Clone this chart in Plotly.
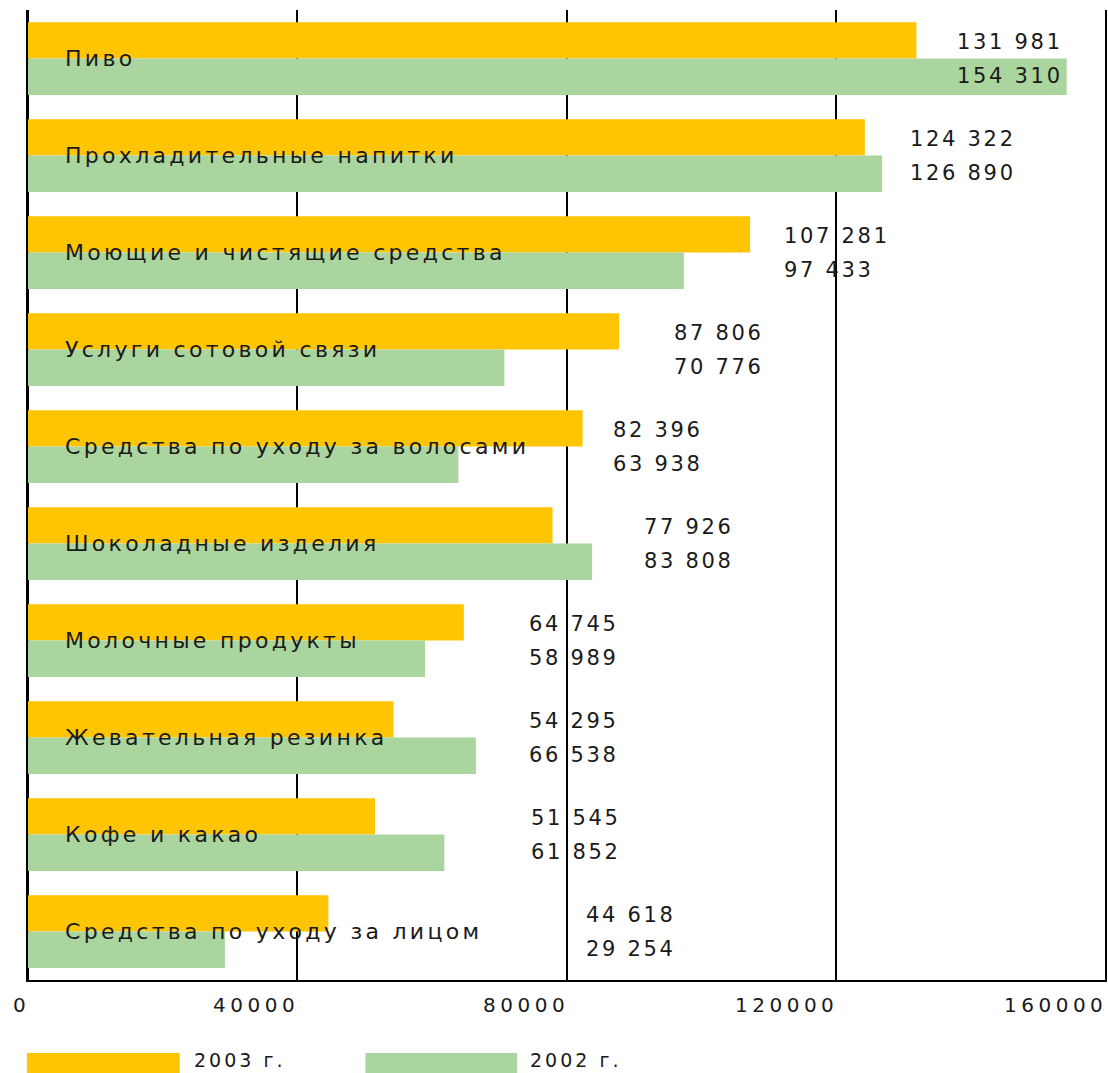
import plotly.graph_objects as go

# ---- data ----
categories = [
    "Пиво",
    "Прохладительные напитки",
    "Моющие и чистящие средства",
    "Услуги сотовой связи",
    "Средства по уходу за волосами",
    "Шоколадные изделия",
    "Молочные продукты",
    "Жевательная резинка",
    "Кофе и какао",
    "Средства по уходу за лицом",
]
values_2003 = [131981, 124322, 107281, 87806, 82396, 77926, 64745, 54295, 51545, 44618]
values_2002 = [154310, 126890, 97433, 70776, 63938, 83808, 58989, 66538, 61852, 29254]
series_names = ["2003 г.", "2002 г."]
tick_values = [0, 40000, 80000, 120000, 160000]
tick_labels = ["0", "40000", "80000", "120000", "160000"]
# where the value-label column of each category starts (data units)
label_x = [137700, 130800, 112000, 95600, 86600, 91200, 74200, 74200, 74400, 82600]

# ---- style ----
COLOR_2003 = "#FFC502"
COLOR_2002 = "#AAD59E"
FONT = "DejaVu Sans"
TEXT_COLOR = "#1a1a1a"


def spaced(text, ls):
    return f'<span style="letter-spacing:{ls}px">{text}</span>'


def fmt(v):
    return f"{v:,}".replace(",", " ")


fig = go.Figure()
fig.add_trace(go.Bar(y=categories, x=values_2003, name=series_names[0], orientation="h",
                     marker=dict(color=COLOR_2003, line=dict(width=0)), showlegend=False,
                     hoverinfo="x+y"))
fig.add_trace(go.Bar(y=categories, x=values_2002, name=series_names[1], orientation="h",
                     marker=dict(color=COLOR_2002, line=dict(width=0)), showlegend=False,
                     hoverinfo="x+y"))

annotations = []
# category labels inside bars
for c in categories:
    annotations.append(dict(x=0, y=c, xref="x", yref="y", xanchor="left", yanchor="middle",
                            xshift=35, text=spaced(c, 3.3), showarrow=False,
                            font=dict(family=FONT, size=22, color=TEXT_COLOR)))
# value labels
for c, v3, v2, lx in zip(categories, values_2003, values_2002, label_x):
    annotations.append(dict(x=lx, y=c, xref="x", yref="y", xanchor="left", yanchor="middle",
                            yshift=17, text=spaced(fmt(v3), 2.7), showarrow=False,
                            font=dict(family=FONT, size=21, color=TEXT_COLOR)))
    annotations.append(dict(x=lx, y=c, xref="x", yref="y", xanchor="left", yanchor="middle",
                            yshift=-17, text=spaced(fmt(v2), 2.7), showarrow=False,
                            font=dict(family=FONT, size=21, color=TEXT_COLOR)))
# x tick labels, right-aligned to their gridlines
for tv, tl in zip(tick_values, tick_labels):
    annotations.append(dict(x=tv, y=-0.026, xref="x", yref="paper", xanchor="right",
                            yanchor="middle", xshift=4, text=spaced(tl, 4.5), showarrow=False,
                            font=dict(family=FONT, size=20, color=TEXT_COLOR)))

# legend drawn as long swatches
shapes = [
    dict(type="rect", xref="paper", yref="paper", x0=-0.001, x1=0.1408, y0=-0.0753, y1=-0.12,
         fillcolor=COLOR_2003, line=dict(width=0)),
    dict(type="rect", xref="paper", yref="paper", x0=0.3133, x1=0.4541, y0=-0.0753, y1=-0.12,
         fillcolor=COLOR_2002, line=dict(width=0)),
]
annotations.append(dict(x=0.1525, y=-0.0825, xref="paper", yref="paper", xanchor="left",
                        yanchor="middle", text=spaced(series_names[0], 3), showarrow=False,
                        font=dict(family=FONT, size=19, color=TEXT_COLOR)))
annotations.append(dict(x=0.4643, y=-0.0825, xref="paper", yref="paper", xanchor="left",
                        yanchor="middle", text=spaced(series_names[1], 3), showarrow=False,
                        font=dict(family=FONT, size=19, color=TEXT_COLOR)))

fig.update_layout(
    width=1108, height=1073,
    margin=dict(l=28, r=1, t=10, b=93),
    paper_bgcolor="white", plot_bgcolor="white",
    barmode="group", bargap=0.25, bargroupgap=0,
    showlegend=False,
    annotations=annotations,
    shapes=shapes,
    xaxis=dict(range=[0, 160000], tickvals=tick_values, showticklabels=False,
               showgrid=True, gridcolor="black", gridwidth=2,
               zeroline=True, zerolinecolor="black", zerolinewidth=2,
               showline=True, linecolor="black", linewidth=2, ticks="",
               fixedrange=True),
    yaxis=dict(range=[9.5, -0.5], showticklabels=False, showgrid=False, zeroline=False,
               showline=True, mirror=True, linecolor="black", linewidth=2,
               layer="below traces", ticks="", fixedrange=True),
)

fig.write_html("out.html")
